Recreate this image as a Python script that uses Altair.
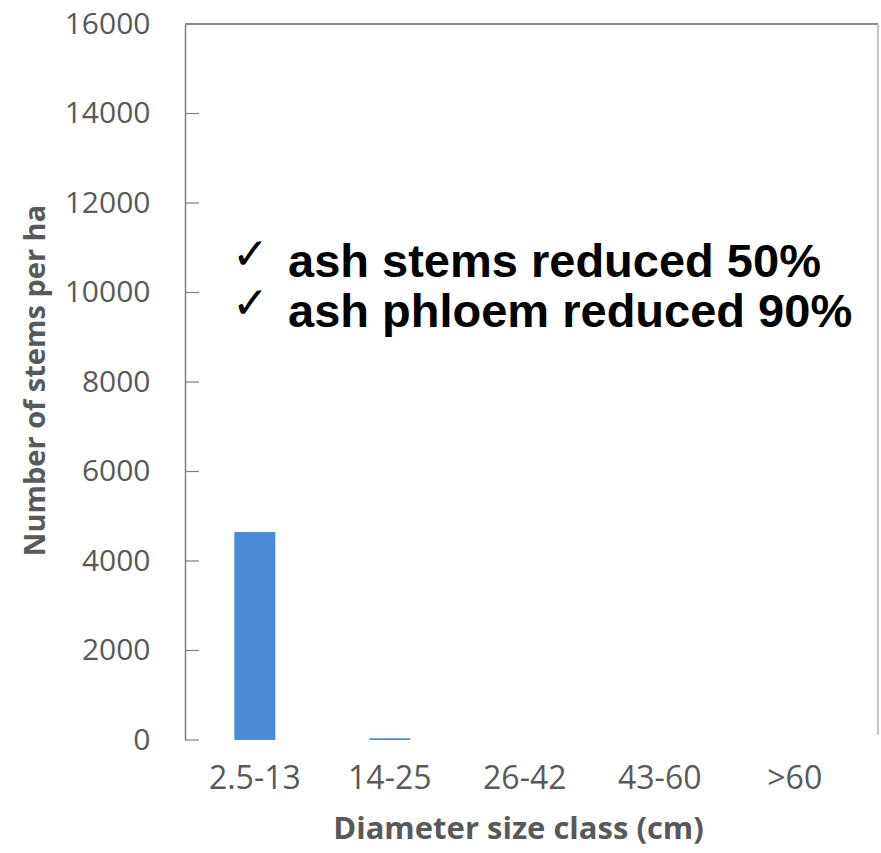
import altair as alt
import pandas as pd

categories = ["2.5-13", "14-25", "26-42", "43-60", ">60"]
stems = [4650, 40, 0, 0, 0]
y_ticks = [0, 2000, 4000, 6000, 8000, 10000, 12000, 14000, 16000]
notes = ["ash stems reduced 50%", "ash phloem reduced 90%"]

W, H = 693, 716

df = pd.DataFrame({"cls": categories, "stems": stems})
tick_df = pd.DataFrame({"t": y_ticks})

gray = "#595959"

xscale = alt.Scale(domain=categories, paddingInner=0.696, paddingOuter=0.415, align=0.44)
yscale = alt.Scale(domain=[0, 16000], nice=False)

bars = alt.Chart(df).mark_bar(color="#4a8bd6").encode(
    x=alt.X("cls:N", scale=xscale, sort=categories,
            axis=alt.Axis(title="Diameter size class (cm)", labelAngle=0,
                          labelFont="Open Sans", labelFontSize=32, labelColor=gray,
                          labelBaseline="alphabetic", labelPadding=48,
                          ticks=False, tickSize=0, domain=False,
                          titleFont="Open Sans", titleFontSize=31, titleFontWeight="bold",
                          titleColor=gray, titleX=333, titleY=98,
                          titleBaseline="alphabetic", titleAnchor="middle")),
    y=alt.Y("stems:Q", scale=yscale,
            axis=alt.Axis(title="Number of stems per ha", values=y_ticks, grid=False,
                          format="d",
                          labelFont="Open Sans", labelFontSize=30, labelColor=gray,
                          labelPadding=35, ticks=False, tickSize=0,
                          domainColor="#7f7f7f", domainWidth=1.5,
                          titleFont="Open Sans", titleFontSize=29, titleFontWeight="bold",
                          titleColor=gray, titleX=-150, titleY=356,
                          titleBaseline="middle", titleAngle=-90)),
)

ticks = alt.Chart(tick_df).mark_rule(color="#7f7f7f", strokeWidth=1.2).encode(
    y=alt.Y("t:Q", scale=yscale),
    x=alt.value(0), x2=alt.value(14),
)

top_border = alt.Chart(tick_df).mark_rule(color="#8a8a8a", strokeWidth=1.5).encode(
    x=alt.value(0), x2=alt.value(W), y=alt.value(0)
)
right_border = alt.Chart(tick_df).mark_rule(color="#c4c4c4", strokeWidth=1.5).encode(
    x=alt.value(W), y=alt.value(0), y2=alt.value(H - 5)
)

note_df = pd.DataFrame({"txt": notes, "row": [0, 1]})
note_text = alt.Chart(note_df).transform_calculate(
    ypix="253 + datum.row * 50"
).mark_text(font="Liberation Sans", fontSize=47, fontWeight="bold", color="black",
            align="left", baseline="alphabetic").encode(
    text="txt:N", x=alt.value(103), y=alt.Y("ypix:Q", scale=None)
)
check_text = alt.Chart(note_df).transform_calculate(
    ypix="245 + datum.row * 49"
).mark_text(font="DejaVu Sans", fontSize=44, color="black",
            align="left", baseline="alphabetic", text="✓").encode(
    x=alt.value(47), y=alt.Y("ypix:Q", scale=None)
)

chart = alt.layer(bars, ticks, top_border, right_border, note_text, check_text).properties(
    width=W, height=H,
    autosize=alt.AutoSizeParams(type="none"),
    padding={"left": 185, "top": 24, "right": 3, "bottom": 113},
    background="white",
).configure_view(stroke=None)

chart.save("out.html", embed_options={"renderer": "svg", "actions": False})
